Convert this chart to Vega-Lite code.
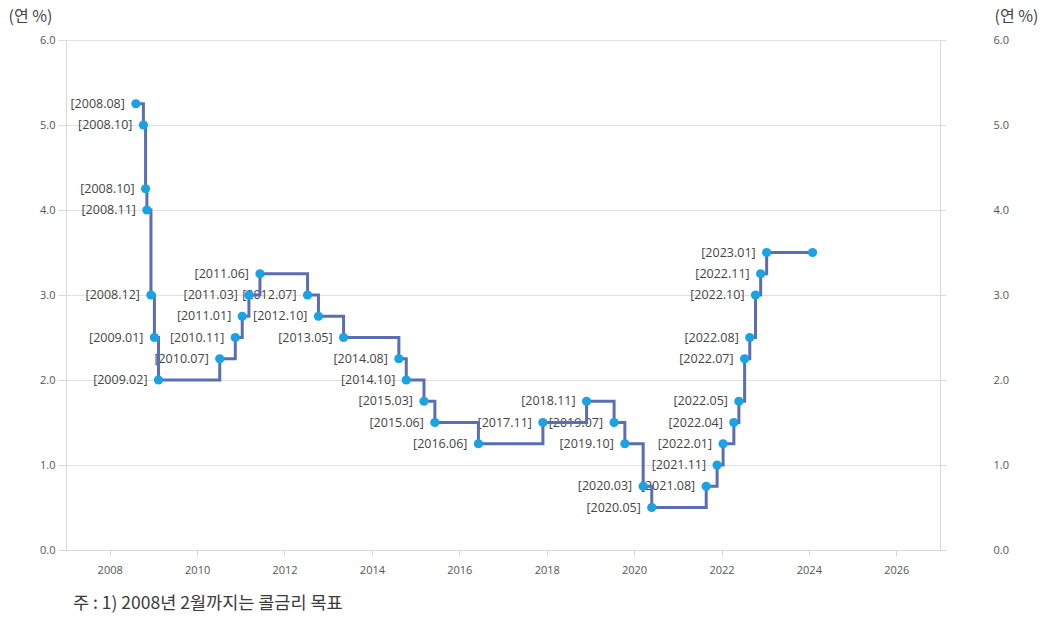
{
  "$schema": "https://vega.github.io/schema/vega-lite/v6.json",
  "autosize": {"type": "none"},
  "width": 874,
  "height": 510,
  "padding": {"left": 66, "top": 40, "right": 105, "bottom": 72},
  "background": "white",
  "title": {
    "text": "주 : 1) 2008년 2월까지는 콜금리 목표",
    "orient": "bottom",
    "anchor": "start",
    "frame": "group",
    "offset": 20,
    "dx": 7,
    "font": "Noto Sans CJK KR",
    "fontSize": 17.5,
    "fontWeight": "normal",
    "color": "#3a3a3a"
  },
  "config": {
    "view": {"stroke": null},
    "font": "Open Sans",
    "axis": {
      "labelFont": "Open Sans",
      "labelFontSize": 11,
      "labelColor": "#555555",
      "domainColor": "#d8d8d8",
      "tickColor": "#d8d8d8",
      "gridColor": "#e0e0e0"
    }
  },
  "data": {
    "values": [
      {"date": "2008-08-07", "rate": 5.25, "label": "[2008.08]"},
      {"date": "2008-10-09", "rate": 5.00, "label": "[2008.10]"},
      {"date": "2008-10-27", "rate": 4.25, "label": "[2008.10]"},
      {"date": "2008-11-07", "rate": 4.00, "label": "[2008.11]"},
      {"date": "2008-12-11", "rate": 3.00, "label": "[2008.12]"},
      {"date": "2009-01-09", "rate": 2.50, "label": "[2009.01]"},
      {"date": "2009-02-12", "rate": 2.00, "label": "[2009.02]"},
      {"date": "2010-07-09", "rate": 2.25, "label": "[2010.07]"},
      {"date": "2010-11-16", "rate": 2.50, "label": "[2010.11]"},
      {"date": "2011-01-13", "rate": 2.75, "label": "[2011.01]"},
      {"date": "2011-03-10", "rate": 3.00, "label": "[2011.03]"},
      {"date": "2011-06-10", "rate": 3.25, "label": "[2011.06]"},
      {"date": "2012-07-12", "rate": 3.00, "label": "[2012.07]"},
      {"date": "2012-10-11", "rate": 2.75, "label": "[2012.10]"},
      {"date": "2013-05-09", "rate": 2.50, "label": "[2013.05]"},
      {"date": "2014-08-14", "rate": 2.25, "label": "[2014.08]"},
      {"date": "2014-10-15", "rate": 2.00, "label": "[2014.10]"},
      {"date": "2015-03-12", "rate": 1.75, "label": "[2015.03]"},
      {"date": "2015-06-11", "rate": 1.50, "label": "[2015.06]"},
      {"date": "2016-06-09", "rate": 1.25, "label": "[2016.06]"},
      {"date": "2017-11-30", "rate": 1.50, "label": "[2017.11]"},
      {"date": "2018-11-30", "rate": 1.75, "label": "[2018.11]"},
      {"date": "2019-07-18", "rate": 1.50, "label": "[2019.07]"},
      {"date": "2019-10-16", "rate": 1.25, "label": "[2019.10]"},
      {"date": "2020-03-17", "rate": 0.75, "label": "[2020.03]"},
      {"date": "2020-05-28", "rate": 0.50, "label": "[2020.05]"},
      {"date": "2021-08-26", "rate": 0.75, "label": "[2021.08]"},
      {"date": "2021-11-25", "rate": 1.00, "label": "[2021.11]"},
      {"date": "2022-01-14", "rate": 1.25, "label": "[2022.01]"},
      {"date": "2022-04-14", "rate": 1.50, "label": "[2022.04]"},
      {"date": "2022-05-26", "rate": 1.75, "label": "[2022.05]"},
      {"date": "2022-07-13", "rate": 2.25, "label": "[2022.07]"},
      {"date": "2022-08-25", "rate": 2.50, "label": "[2022.08]"},
      {"date": "2022-10-12", "rate": 3.00, "label": "[2022.10]"},
      {"date": "2022-11-24", "rate": 3.25, "label": "[2022.11]"},
      {"date": "2023-01-13", "rate": 3.50, "label": "[2023.01]"},
      {"date": "2024-02-01", "rate": 3.50, "label": ""}
    ]
  },
  "encoding": {
    "x": {
      "field": "date",
      "type": "temporal",
      "scale": {"domain": ["2007-01-01", "2027-01-01"]},
      "axis": {
        "title": null,
        "format": "%Y",
        "tickCount": {"interval": "year", "step": 2},
        "grid": false,
        "tickSize": 6,
        "labelPadding": 8,
        "domain": true
      }
    }
  },
  "layer": [
    {
      "mark": {"type": "text", "align": "right", "baseline": "middle", "dx": -11, "fontSize": 12.5, "font": "Open Sans", "color": "#444444"},
      "encoding": {
        "text": {"field": "label"},
        "y": {
          "field": "rate",
          "type": "quantitative",
          "scale": {"domain": [0, 6], "nice": false, "zero": true},
          "axis": {
            "title": "(연 %)",
            "titleAngle": 0,
            "titleX": -58,
            "titleY": -24,
            "titleAlign": "left",
            "titleBaseline": "middle",
            "titleFont": "Noto Sans CJK KR",
            "titleFontSize": 16,
            "titleFontWeight": "normal",
            "titleColor": "#444444",
            "values": [0, 1, 2, 3, 4, 5, 6],
            "format": ".1f",
            "grid": true,
            "tickSize": 8,
            "labelPadding": 3,
            "domain": true
          }
        }
      }
    },
    {
      "mark": {"type": "line", "interpolate": "step-after", "color": "#5b6eb4", "strokeWidth": 3},
      "encoding": {
        "y": {
          "field": "rate",
          "type": "quantitative",
          "scale": {"domain": [0, 6], "nice": false, "zero": true},
          "axis": {
            "orient": "right",
            "title": "(연 %)",
            "titleAngle": 0,
            "titleX": 54,
            "titleY": -24,
            "titleAlign": "left",
            "titleBaseline": "middle",
            "titleFont": "Noto Sans CJK KR",
            "titleFontSize": 16,
            "titleFontWeight": "normal",
            "titleColor": "#444444",
            "values": [0, 1, 2, 3, 4, 5, 6],
            "format": ".1f",
            "grid": false,
            "tickSize": 6,
            "labelPadding": 47,
            "domain": true
          }
        }
      }
    },
    {
      "mark": {"type": "point", "filled": true, "shape": "circle", "size": 85, "color": "#1aa3e3", "opacity": 1},
      "encoding": {
        "y": {
          "field": "rate",
          "type": "quantitative",
          "scale": {"domain": [0, 6], "nice": false, "zero": true},
          "axis": null
        }
      }
    }
  ],
  "resolve": {"axis": {"y": "independent"}}
}
